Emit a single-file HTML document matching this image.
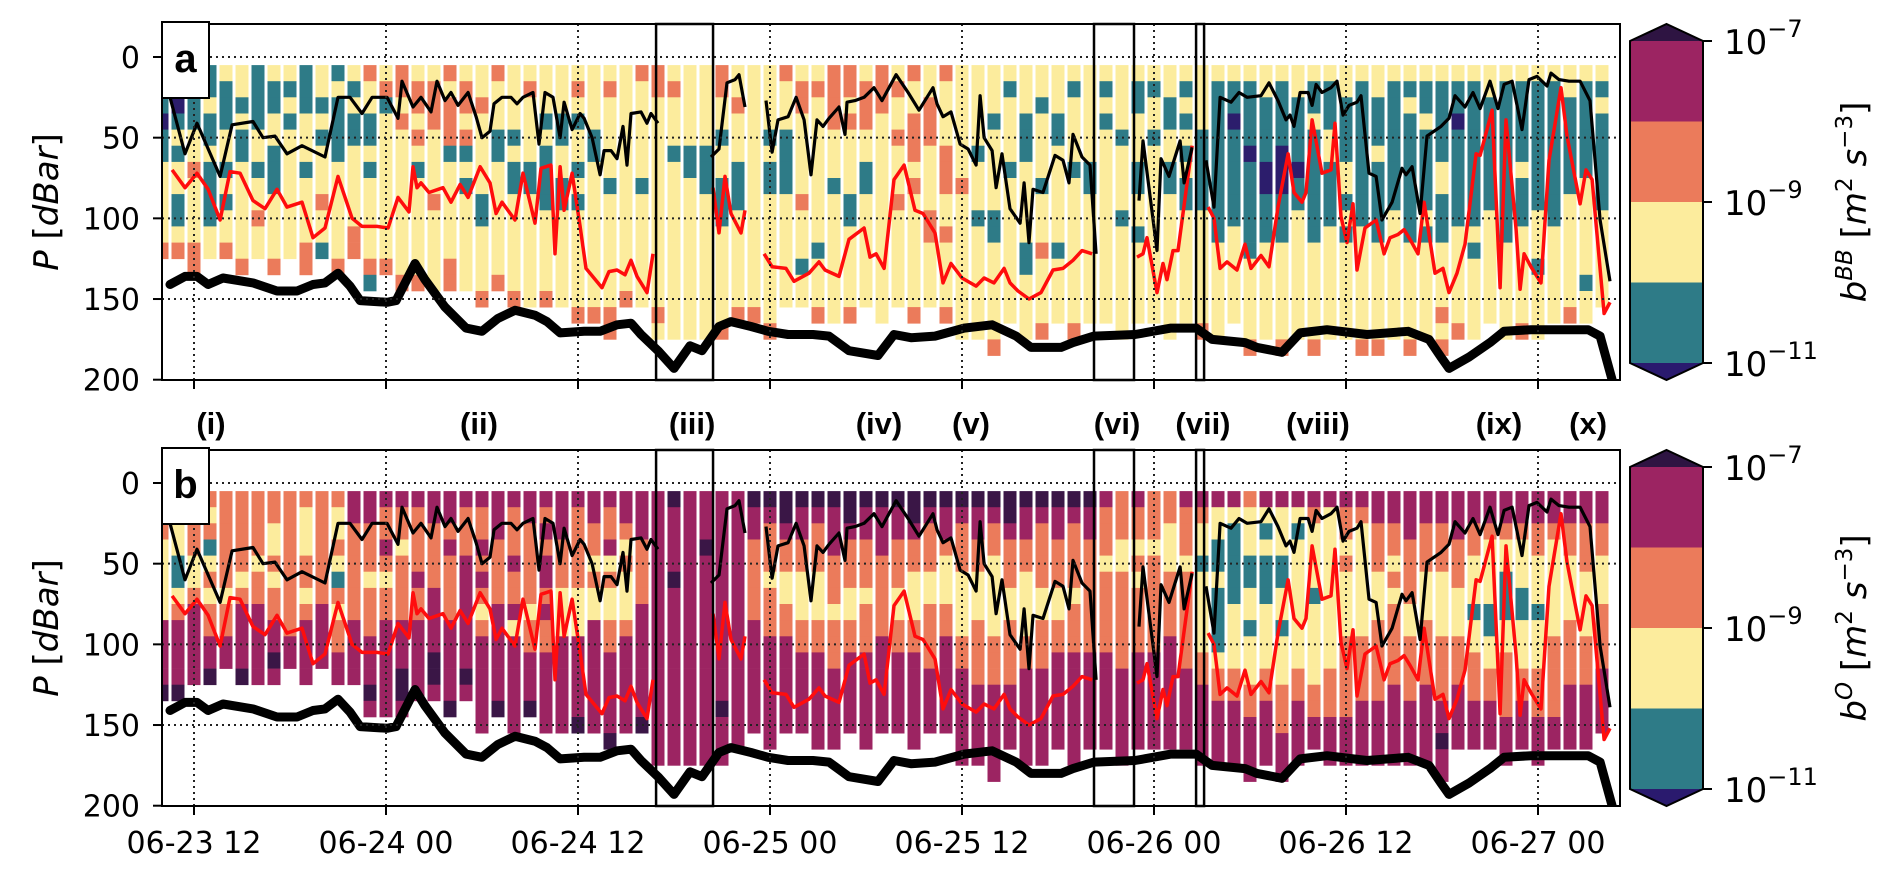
<!DOCTYPE html>
<html><head><meta charset="utf-8"><style>
body{margin:0;background:#fff;}
svg{display:block;font-family:"DejaVu Sans","Liberation Sans",sans-serif;}
.lbl{font-family:"Liberation Sans Narrow","Liberation Sans",sans-serif;font-weight:bold;font-size:31px;}
</style></head><body>
<svg id="chart" width="1892" height="874" viewBox="0 0 1892 874" xmlns="http://www.w3.org/2000/svg">
<g id="layer"></g>
</svg>
<script>
// ---- data (time in hours since 06-23 00:00, pressure in dBar) ----
const xTickHours = [12,24,36,48,60,72,84,96];
const xTickLabels = ["06-23 12","06-24 00","06-24 12","06-25 00","06-25 12","06-26 00","06-26 12","06-27 00"];
const yTicks = [0,50,100,150,200];
const cbarTicks = ["10","10","10"];
const cbarExp = ["−7","−9","−11"];
const profileStart = 10;
const profilesA = ["yntnttyyyyyo","ytntytyyttyo","yyttyyoyyyyoo","ttyttyttttyy","ytttyytytyyo","yytyttyyyyyyo","ttttyytyyoyy","yttyytttyyyyo","ytytyyyyyyyy","tttyyytyyyyoo","yytytyyyoyyt","tyttttyyyyyyo","ytyttyyyyyoo","oyyttytyyyyyot","yotyyyyyyyyyo","ooyoyyyyyyyyyo","yooyoytyyyyyyo","yoooyyyyoyyyyy","oyoootyyyyyyoo","yooyotytyyyyyy","yyoyyyyyttyyyyo","oyyyttyyyyyyyo","yyyytyttyyyyyyo","yoyyyyttyyyyyyy","yyytyttttyyyyyo","yyyttyyttyyyyyy","yoytyytytyyyyyyo","yyyyttyyyyyyyyyo","yoyyyyytyyyyyyyoo","yyyyyyyyyyyyyyo","oyyyyyytyyyyyyy","ooyyyyyyyyyyyyyoy","yoyyytyyyyyyyyyyy","yyyyyttyyyyyyyyyy","yyyyytttyyyyyyyyy","ooyytyytttyyyyyyo","yyoyyytttyyyyyyo","yyyyyyyyyyyyyyyo","yyyytyttyyyyyyyyo","oyyyttttyyyyyyy","yooyyyyyoyyytyy","yoyyyyyyyyytyyyo","ooooyyytyyyyyyyy","ooyoyyyyttyyyyyo","yoooyyttyyyyyyy","oooyyyyyyyyyyyyy","yoyyoyyyoyyyyyy","oyyoooyoyyyyyyyo","yyoooyyyyooyyyy","oyyyyoooyyoyyyyo","yyyyyyyoyyyyyyyyy","yyyyytyyytyyyyyyy","yyytyyyyyttyyyyyyo","ytyyyytyyyyyyyyy","yyytttyyyyyttyyyy","yytyyyytyyyoyyyyo","yyyttyyyyyytyyyy","ytyyyytyyyyyyyyyo","yyyyyyttyyyyyyyy","ytytyyyyyyyyyyyy","yyyytyyyytyyyyyyy","yttyyyttyytyyyyy","ytyytyyyyyyyyyyy","yyttyyttyyyyyyyyy","ytytytyttyyyyyyy","yyyytttttyyyyyyyo","yttttttttttyyyyyy","yttnttttttyyyyyy","yttttnttttttyyyyyo","yyttttnntttyyyyyy","yttttnnntttyyyyyyo","yyttttnttyyyyyyyy","yttytttttttyyyyyyo","ytttyyttttyyyyyyy","yyttttyytytyyyyyy","ytttttttttyyyyyyyo","yytttytttttyyyyyyo","yttttttttyyyyyyyy","ytyttttttttyyyyyyo","yttytttttytyyyyyy","ytttttyytttyyyyoyo","yttnttttttyyyyyyo","ytttttttttytyyyyy","yytttttttyyyyyyy","yttttttttttyyyyyy","ytttttytttyyyyyyo","yttttttttyyytyyyy","ytttttttttyyyyyy","yyttttttyyyyyyyo","yttttttyyyyyytyy","ytyttttttyyyyyy"];
const profilesB = ["pmoyyyyymmmmp","moyyttyommmmp","ooooyyommmmm","oyotyoyoommp","ooooooyoomm","oooooyommmmp","ooooyoommmmm","ooyyoyoommpm","ooooooooomm","oyyyooyommmm","ooooooommmm","oyyoytoyoomm","mmoooooommmm","mmoooyooommmpm","moomoyoommmmmm","mooyoooommmppm","moooomoommmmm","mmoooommmmppm","mmomoooommmmmp","mooommmmmmmpm","moomomoyommmmmm","mmmoooommmmmmp","mooomoomymmmmmm","mmoooooyoommmp","momommomoommmmm","mmmoooyyymmmmmm","moooooyyymmmmmp","mmooyoyymmmmmmm","moomyoyyoommmmmp","mmoyoyyyommmmmm","mmmoooommmmmmmp","mmmmmmmmmmmmmmmmm","pmmmmpmmmmmmmmmmm","mmmmmmmmmmmmmmmmm","mmmpmmmmmmmmmmmmm","mmmmmmmmmmmmmpmmm","mmmmmmmmmmmmmmmm","pmmooooommmmmmm","pmoooyooommmmmmm","ppmooyyoommmmmm","pmmooyyyoommmmm","pmoooyyyoommmmmm","pmmmoooyooommmmm","ppmoooyyoommmmm","pmmoooyooommmmmm","pmmmooooommmmmm","pmmoooyyoommmmm","ppmooyyyoommmmmm","pmoooyyoooommmm","pmmoyyyoommmmmm","pmoooyyyyoommmmmm","pmmooyyyoooommmmm","pmooyyyyyooommmmmm","ppmoooyyoooommmm","pmmooyyyyoommmmmm","pmooooyyooommmmmm","pmmoooyyoommmmmm","pmooooyooommmmmmm","pmmooooooommmmmm","moooyooooommmmmm","oooyyoooooommmmmm","mooyoyoooommmmmm","oooyoooooommmmmm","ooyyyoooommmmmmm","moooyoooooommmmm","moyytyyyyyoommmmm","myyttyttttyoommmm","mytttttyyyyoommmm","oyyyttyytyyyoommmm","mytytttyyyyoommmm","myyyttyytyyyooommm","mytyyyyyyyyoommmm","moyyyytyyyyyoomm","myyyyyyyyyyooommm","mooyoyyyyooooommm","moyyyyyyyoooommmm","mmoooyyyooooommmm","mmooyoyooooommmmm","mmmooooyyoooommmm","mmoooyyyoooommmmm","mmoooyyyyoooommpmm","mmmoooyyyooommmm","mmooyyytyyooommm","mmoyyyyttyyoommm","mmoyytttyyoooommm","mmoyyyttyyyoommm","mmooyyytyyyooommm","mmoyyyyyyooooomm","mmooyyyyoooommmm","mmoooyyyyooommmm","mmooyyyoooommmm"];
const mldTime = [10.5,11.44,12.19,13.63,14.38,15.69,16.31,17.06,17.81,18.75,20.19,21,21.75,22.5,23.13,24.06,24.75,25,25.69,26.19,26.81,27.19,27.69,28.06,28.5,29.13,29.63,30,30.5,30.75,31.25,31.81,32.19,32.56,33.19,33.56,33.94,34.44,34.88,35.13,35.63,36.13,36.38,36.88,37.38,37.63,38.06,38.44,38.81,39.06,39.31,39.94,40.31,40.56,41,null,44.31,44.81,45.31,45.81,46.06,46.44,null,47.75,48.13,48.5,49.13,49.63,50.13,50.56,50.94,51.31,51.69,52.31,52.69,52.81,53.31,53.88,54.5,55,55.88,56.63,57.31,57.81,58.19,58.44,58.81,59.31,59.88,60.38,60.88,61.13,61.38,61.88,62.13,62.5,63,63.63,63.88,64.19,64.44,65.06,65.81,66.31,66.69,66.94,67.5,68,68.38,null,71.06,71.31,72.19,72.44,72.94,73.63,73.88,74.38,null,75.25,75.75,76.13,76.81,77.31,77.81,78.69,79.19,79.75,80.25,80.5,80.75,81.13,81.63,81.88,82.13,82.5,83.06,83.44,83.81,84.19,84.69,84.94,85.44,85.88,86.25,86.88,87.5,87.75,88.13,88.63,89.06,89.94,90.44,90.81,91.44,91.94,92.38,93,93.5,93.88,94.38,95,95.44,95.94,96.56,96.81,97.31,97.94,98.63,99.25,99.88,100.5];
const mldP = [25,60,41,74,42,40,50,49,60,55,62,25,25,35,25,25,38,15,31,25,34,15,27,22,30,22,37,50,46,29,25,25,29,25,22,54,22,25,50,28,45,35,38,50,73,58,58,63,43,67,35,34,41,35,41,null,62,57,16,14,11,31,null,27,59,39,37,25,39,73,39,43,38,31,48,28,27,25,19,27,11,22,33,25,19,29,37,34,54,57,67,24,50,58,81,60,94,103,78,115,82,84,61,64,78,48,62,67,122,null,89,52,120,63,74,52,78,56,null,64,93,25,28,22,25,24,16,27,39,36,43,22,22,30,17,22,19,15,36,30,28,24,72,74,101,90,69,73,68,97,49,43,38,24,31,22,32,15,32,17,15,45,14,12,18,10,14,15,15,27,101,139];
const redTime = [10.63,11.44,12.19,12.88,13.63,14.25,14.88,15.69,16.44,17.19,17.81,18.75,19.44,20.19,21,21.88,22.5,23.44,24.13,24.75,25.44,25.69,25.94,26.19,26.69,27.56,28.06,28.63,29.13,29.88,30.5,30.88,31.25,32.06,32.56,33.31,33.69,34.31,34.56,34.88,35.13,35.63,36.13,36.5,37.5,37.94,38.44,38.94,39.31,39.69,40.31,40.69,null,44.44,44.81,45.19,45.56,46.19,46.44,null,47.63,48.13,49,49.5,50.44,51.06,51.44,52.31,52.94,53.88,54.25,54.63,55.13,55.75,56.38,57.06,57.56,58.31,58.81,59.31,60,60.88,61.38,62,62.63,63,63.5,64.19,64.94,65.69,66.31,66.94,67.5,68.13,null,70.94,71.31,71.56,72.19,72.56,72.81,73.19,73.5,74.38,null,75.38,75.75,76.13,76.56,77.19,77.69,78.06,78.69,79.19,79.75,80.38,80.75,81.25,81.5,81.88,82.5,83.06,83.31,83.69,84.06,84.44,84.69,85.19,85.88,86.38,86.75,87.25,87.63,88,88.5,88.88,89.56,90.06,90.44,90.94,91.44,92.13,92.38,93.13,93.63,94,94.63,94.88,95.13,95.56,96.19,96.69,97.44,97.81,98.63,99,99.38,100.13,100.5];
const redP = [70,81,72,82,101,71,72,89,94,82,93,90,112,106,74,100,105,105,106,87,96,68,81,78,84,81,90,79,87,68,78,97,90,101,72,103,69,67,122,68,95,72,105,131,143,133,132,135,126,136,146,122,null,81,109,74,97,109,95,null,122,130,131,139,134,127,132,136,113,106,124,122,131,76,67,95,97,109,140,128,137,142,137,140,131,140,145,150,146,132,131,126,120,122,null,124,122,112,146,128,138,120,120,55,null,93,100,131,127,132,116,131,123,130,93,60,84,90,84,39,72,70,41,99,115,91,132,106,101,122,112,110,107,113,122,90,134,131,146,134,116,60,61,33,143,39,107,144,122,130,140,64,19,49,91,70,76,159,152];
const bottomTime = [10.5,11.44,12.19,12.88,13.81,15.69,17.19,18.44,19.44,20.19,21,21.75,22.38,24.06,24.63,25.81,26.44,27.69,29,30,31,32.06,33.31,34.06,34.88,36.38,37.38,38.44,39.31,39.94,41,42,43,43.75,44.81,45.56,46.81,47.88,49.13,50.69,51.69,52.94,54.75,55.75,56.81,58.31,60.13,61.88,63.38,64.31,66.19,66.94,68.25,70.81,73.06,74.63,75.63,77.69,78.44,80,81.13,82.81,85.31,87.88,89.19,89.94,90.44,91.69,93,93.88,95.56,99.13,99.88,100.63];
const bottomP = [141,136,136,141,137,140,145,145,141,140,134,142,151,152,151,128,138,155,168,170,162,157,160,164,171,170,170,166,165,172,182,193,179,182,167,164,167,170,172,172,173,182,185,172,174,173,168,166,173,180,180,177,173,172,168,168,175,177,180,183,171,169,172,170,175,186,193,186,177,170,169,169,173,200];
const boxStart = [40.88,68.25,74.63];
const boxEnd = [44.44,70.75,75.13];
const eventNames = ["(i)","(ii)","(iii)","(iv)","(v)","(vi)","(vii)","(viii)","(ix)","(x)"];
const eventHours = [13.06,29.81,43.13,54.81,60.56,69.69,75.06,82.25,93.56,99.13];

// ---- layout ----
const NS="http://www.w3.org/2000/svg";
const L=162,R=1620;
const panels=[{top:24,bottom:380,y0:57,key:"a",cbTitle:"BB",prof:profilesA},{top:450,bottom:806,y0:483,key:"b",cbTitle:"O",prof:profilesB}];
const pxPerP=1.6135;
function xS(t){return 194+(t-12)*16;}
const colors={n:"#2c1d6c",t:"#2e7b87",y:"#fcec9d",o:"#eb7b5b",m:"#9c2462",p:"#3a1646"};
const layer=document.getElementById("layer");
function el(tag,attrs,parent){const e=document.createElementNS(NS,tag);for(const k in attrs)e.setAttribute(k,attrs[k]);(parent||layer).appendChild(e);return e;}
function linePath(ts,ps,yS){let d="",pen=false;for(let i=0;i<ts.length;i++){if(ts[i]===null||ps[i]===null){pen=false;continue;}d+=(pen?"L":"M")+xS(ts[i]).toFixed(1)+","+yS(ps[i]).toFixed(1);pen=true;}return d;}

panels.forEach((P,pi)=>{
  const yS=p=>P.y0+p*pxPerP;
  const g=el("g",{});
  
  
  const clipId="clip"+pi;
  const cp=el("clipPath",{id:clipId},g);
  el("rect",{x:L,y:P.top,width:R-L,height:P.bottom-P.top},cp);
  const pg=el("g",{"clip-path":"url(#"+clipId+")"},g);
  
  
  P.prof.forEach((s,i)=>{
    const t=profileStart+i;const cx=xS(t);
    for(let j=0;j<s.length;j++){
      const c=colors[s[j]];if(!c)continue;
      const r=el("rect",{x:(cx-6.5).toFixed(1),y:yS(5+10*j).toFixed(1),width:13,height:(10*pxPerP+0.4).toFixed(1),fill:c},pg);
      
      
    }
  });
  yTicks.slice(0,4).forEach(v=>{const gl=el("line",{x1:L,x2:R,y1:yS(v),y2:yS(v),stroke:"#222","stroke-width":2,"stroke-dasharray":"2,4"},g);
    
    });
  xTickHours.forEach(h=>{const gl=el("line",{x1:xS(h),x2:xS(h),y1:P.top,y2:P.bottom,stroke:"#222","stroke-width":2,"stroke-dasharray":"2,4"},g);
    
    });
  const bl=el("path",{d:linePath(bottomTime,bottomP,yS),fill:"none",stroke:"#000","stroke-width":9,"stroke-linejoin":"round","stroke-linecap":"round"},pg);
  
  
  const rl=el("path",{d:linePath(redTime,redP,yS),fill:"none",stroke:"#ff0d0d","stroke-width":3.5,"stroke-linejoin":"round"},pg);
  
  
  const ml=el("path",{d:linePath(mldTime,mldP,yS),fill:"none",stroke:"#000","stroke-width":3.2,"stroke-linejoin":"round"},pg);
  
  
  boxStart.forEach((b,k)=>{const bx=el("rect",{x:xS(b),y:P.top,width:xS(boxEnd[k])-xS(b),height:P.bottom-P.top,fill:"none",stroke:"#000","stroke-width":2.5},g);
    
    });
  const fr=el("rect",{x:L,y:P.top,width:R-L,height:P.bottom-P.top,fill:"none",stroke:"#000","stroke-width":2},g);
  
  
  yTicks.forEach(v=>{el("line",{x1:L-9,x2:L,y1:yS(v),y2:yS(v),stroke:"#000","stroke-width":2},g);
    const tx=el("text",{x:L-22,y:yS(v)+11,"text-anchor":"end","font-size":30},g);tx.textContent=v;
    
    });
  xTickHours.forEach(h=>{el("line",{x1:xS(h),x2:xS(h),y1:P.bottom,y2:P.bottom+9,stroke:"#000","stroke-width":2},g);});
  const yl=el("text",{transform:"translate(58,"+((P.top+P.bottom)/2)+") rotate(-90)","text-anchor":"middle","font-size":34},g);
  yl.innerHTML='<tspan font-style="italic">P</tspan> [<tspan font-style="italic">dBar</tspan>]';
  
  
  el("rect",{x:L,y:P.top-2,width:47,height:76,fill:"#fff",stroke:"#000","stroke-width":2},g);
  const pl=el("text",{x:L+23.5,y:P.top+48,"text-anchor":"middle","font-size":40,"font-weight":"bold","font-family":"Liberation Sans, sans-serif"},g);
  pl.textContent=P.key;
  
  
  const cb=el("g",{},g);
  
  
  const cx0=1630,cx1=1703,ct=P.top+17,cbot=P.bottom-17;
  const bh=(cbot-ct)/4;
  el("polygon",{points:`${cx0},${ct} ${(cx0+cx1)/2},${P.top} ${cx1},${ct}`,fill:"#2e1442"},cb);
  ["#9c2462","#eb7b5b","#fcec9d","#2e7b87"].forEach((c,k)=>el("rect",{x:cx0,y:ct+k*bh,width:cx1-cx0,height:bh+0.5,fill:c},cb));
  el("polygon",{points:`${cx0},${cbot} ${(cx0+cx1)/2},${P.bottom} ${cx1},${cbot}`,fill:"#2a1a6e"},cb);
  el("polygon",{points:`${cx0},${ct} ${(cx0+cx1)/2},${P.top} ${cx1},${ct} ${cx1},${cbot} ${(cx0+cx1)/2},${P.bottom} ${cx0},${cbot}`,fill:"none",stroke:"#000","stroke-width":2},cb);
  cbarTicks.forEach((b,k)=>{const yy=ct+k*2*bh;el("line",{x1:cx1,x2:cx1+9,y1:yy,y2:yy,stroke:"#000","stroke-width":2},cb);
    const tx=el("text",{x:1724,y:yy+13,"font-size":34},cb);
    tx.innerHTML=b+'<tspan dy="-17" font-size="24">'+cbarExp[k]+'</tspan>';
    
    });
  const ct2=el("text",{transform:"translate(1866,"+((P.top+P.bottom)/2)+") rotate(-90)","text-anchor":"middle","font-size":34},cb);
  ct2.innerHTML='<tspan font-style="italic">b</tspan><tspan dy="-14" font-size="23" font-style="italic">'+P.cbTitle+'</tspan><tspan dy="14"> [</tspan><tspan font-style="italic">m</tspan><tspan dy="-14" font-size="23">2</tspan><tspan dy="14"> </tspan><tspan font-style="italic">s</tspan><tspan dy="-14" font-size="23">−3</tspan><tspan dy="14">]</tspan>';
  
  
});
xTickHours.forEach((h,k)=>{const tx=el("text",{x:xS(h),y:853,"text-anchor":"middle","font-size":30});tx.textContent=xTickLabels[k];
  
  });
eventHours.forEach((h,k)=>{const tx=el("text",{x:xS(h),y:434,"text-anchor":"middle","class":"lbl"});tx.textContent=eventNames[k];
  
  });
</script>
</body></html>
